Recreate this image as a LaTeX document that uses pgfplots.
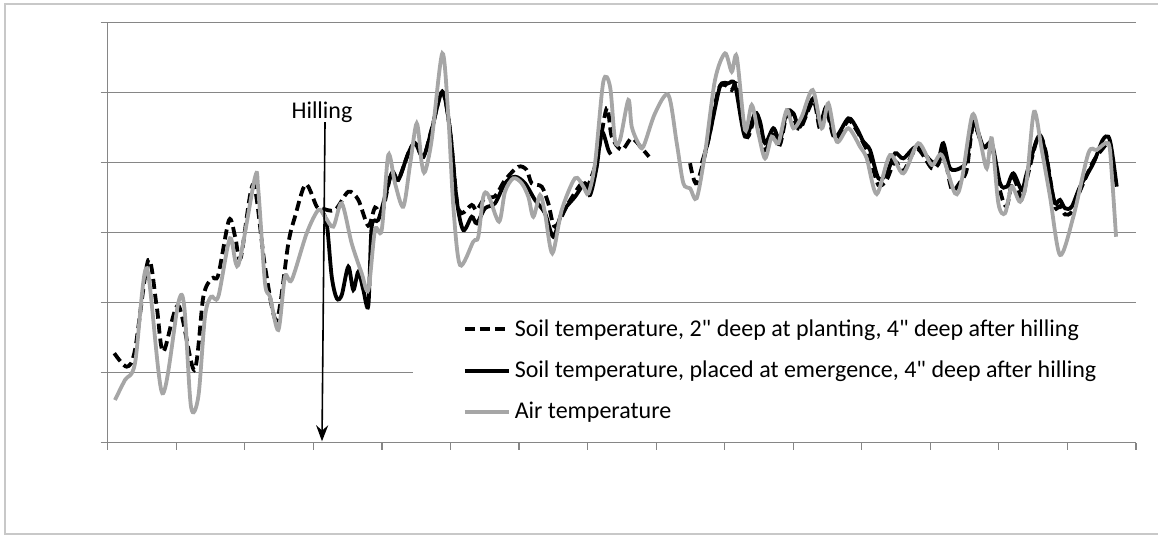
\documentclass[border=0pt]{standalone}
\usepackage{fontspec}
\setmainfont{Carlito}[Ligatures=TeXOff]
\usepackage{pgfplots}
\pgfplotsset{compat=1.18}
\usetikzlibrary{arrows.meta}

\definecolor{gridgray}{HTML}{868686}
\definecolor{airgray}{HTML}{A6A6A6}
\definecolor{framegray}{HTML}{C8C8C8}

\begin{document}
\begin{tikzpicture}
\useasboundingbox (0pt,0pt) rectangle (579pt,267.5pt);
\draw[framegray, line width=0.8pt] (600pt,265.5pt) -- (2.5pt,265.5pt) -- (2.5pt,0.5pt) -- (600pt,0.5pt);
\begin{axis}[
    at={(53.85pt,46.15pt)}, anchor=south west,
    width=514.15pt, height=210pt, scale only axis,
    xmin=0, xmax=150, ymin=0, ymax=30,
    xtick distance=10, ytick distance=5,
    xticklabels={}, yticklabels={},
    axis x line*=bottom, axis y line*=left,
    axis line style={gridgray, line width=0.6pt},
    tick style={gridgray, line width=0.6pt},
    tick align=outside, major tick length=3.5pt,
    ymajorgrids, grid style={gridgray, line width=0.6pt},
    unbounded coords=jump,
    font=\fontsize{12}{14.4}\selectfont,
    legend style={at={(0.2965,0.318)}, anchor=north west, draw=none,
        fill=white, inner xsep=25pt, inner ysep=3pt, row sep=6.8pt,
        font=\fontsize{12}{14.4}\selectfont},
    legend cell align=left,
    legend image code/.code={\draw[#1] (0pt,0pt) -- (22pt,0pt);},
    every axis plot/.append style={line width=1.9pt, smooth, no markers},
]

% soil temperature, 2" at planting, 4" after hilling
\addplot[black, dash pattern=on 5pt off 2.5pt] coordinates {
(0.96,6.39) (2.77,5.43) (3.98,6.62) (5.92,13.05) (7.15,9.71) (8.11,6.50)
(10.3,9.8) (12.63,5.19) (13.95,10.43) (15.17,11.74) (16.13,11.98) (17.70,15.91)
(18.6,14.7) (19.4,13.2) (21.24,18.46) (22.95,12.57) (24.65,8.76) (26.35,14.24)
(27.32,16.14) (28.88,18.46) (30.49,16.86) (31.22,16.74) (33.16,16.62) (35.10,17.93)
(36.56,17.34) (38.0,15.5) (39.0,16.8) (40.0,16.4) (41.4,19.3) (42.39,18.8)
(43.85,20.67) (44.83,21.4) (46.04,20.4) (47.26,22.4) (48.81,25.07) (49.93,22.34)
(50.91,17.34) (51.64,16.39) (53.10,16.98) (53.83,16.6) (55.04,17.5) (56.50,17.6)
(57.96,18.76) (59.90,19.71) (61.12,19.48) (61.85,18.53) (63.31,18.29) (64.27,17.10)
(65.25,15.43) (67.19,17.10) (69.15,18.53) (69.88,18.17) (71.34,20.19) (72.79,23.89)
(73.52,21.86) (74.98,20.91) (76.44,21.74) (77.90,21.03) (78.96,20.43)
(82,nan)
(84.95,19.96) (85.92,18.53) (87.62,21.62) (89.07,25.19) (90.05,25.55) (91.03,25.19)
(91.76,25.55) (93.22,21.86) (94.43,23.29) (95.16,22.4) (95.89,20.9) (97.10,22.0)
(98.07,21.3) (99.05,23.4) (100.02,23.2) (100.99,22.4) (102.93,24.4) (103.91,22.4)
(104.89,23.6) (106.10,21.7) (108.04,23.0) (109.26,22.3) (110.23,21.4) (111.20,20.4)
(112.42,18.4) (113.64,18.8) (114.85,20.1) (116.06,19.4) (118.02,21.0) (120.20,19.6)
(121.17,19.9) (121.89,20.8) (122.87,18.5) (123.35,18.0) (124.33,18.6) (125.31,19.5)
(126.27,22.7) (127.73,21.1) (128.96,21.2) (130.17,18.0) (131.15,16.9) (132.11,18.9)
(133.34,17.4) (134.06,18.8) (135.75,21.9) (136.73,21.0) (137.46,18.9) (138.19,16.8)
(138.92,16.9) (139.65,16.3) (140.63,16.5) (141.84,18.0) (143.78,20.1) (145.14,21.0)
(145.6,21.3)
};

% soil temperature, placed at emergence
\addplot[black] coordinates {
(31.12,16.62) (31.95,15.67) (32.68,11.86) (33.41,10.31) (34.14,10.55) (35.10,12.57)
(35.83,10.91) (36.56,12.21) (37.29,10.91) (38.02,9.8) (38.51,15.43) (39.47,15.91)
(40.45,17.57) (41.43,19.24) (42.39,18.76) (43.85,20.67) (44.83,21.38) (46.04,20.43)
(47.26,22.34) (48.81,25.07) (49.93,22.34) (50.91,17.34) (51.87,15.19) (53.10,16.14)
(53.83,15.67) (55.04,16.74) (56.50,17.10) (57.96,18.53) (59.42,19.00) (60.87,18.53)
(62.33,17.34) (63.79,16.39) (65.00,14.71) (66.23,16.39) (68.17,17.57) (69.63,18.53)
(70.36,17.69) (71.34,19.71) (72.06,22.21) (73.03,20.91) (73.4,20.6)
(80,nan)
(86.65,19.96) (87.62,21.62) (89.07,25.0) (89.57,25.67) (90.53,25.67) (91.51,25.55)
(92.97,21.86) (94.43,23.53) (95.16,22.93) (95.89,21.39) (97.10,22.46) (98.07,21.62)
(99.05,23.64) (100.02,23.53) (100.99,22.57) (102.93,24.60) (103.91,22.81) (104.89,24.00)
(106.10,21.86) (108.04,23.17) (109.26,22.46) (110.23,21.50) (111.20,20.91) (112.42,18.89)
(113.64,19.24) (114.85,20.67) (116.06,20.31) (118.02,21.14) (120.20,20.07) (121.17,20.19)
(121.89,21.39) (122.87,19.60) (124.33,19.60) (125.31,20.19) (126.27,22.93) (127.73,21.14)
(128.96,21.38) (130.17,18.53) (131.15,18.29) (132.11,19.24) (133.34,18.05) (134.06,19.24)
(135.75,21.86) (136.73,20.91) (137.46,18.76) (138.19,17.10) (138.92,17.34) (139.65,16.74)
(140.63,16.86) (141.84,18.29) (143.78,19.96) (145.14,21.62) (145.97,21.86) (146.46,20.91)
(147.19,18.29)
};

% air temperature
\addplot[airgray] coordinates {
(1.06,3.05) (2.52,4.48) (3.98,5.67) (5.69,12.46) (7.97,3.53) (10.30,10.00)
(11.17,9.71) (12.15,2.57) (13.22,3.29) (14.19,9.00) (15.07,10.43) (16.13,10.43)
(17.84,14.60) (19.05,12.69) (21.49,18.96) (21.97,18.05) (22.95,11.39) (23.68,10.43)
(24.89,8.05) (25.86,11.86) (26.84,11.62) (29.03,14.96) (30.72,16.62) (31.70,16.14)
(32.91,15.43) (34.14,17.10) (35.59,14.24) (37.05,12.10) (38.02,10.91) (38.99,15.19)
(39.97,15.19) (40.93,20.55) (41.91,18.53) (43.12,16.86) (44.10,19.84) (45.08,22.81)
(45.81,19.96) (46.29,19.36) (47.26,21.62) (48.81,27.81) (49.69,23.29) (50.42,16.86)
(51.39,12.69) (53.33,14.36) (54.06,14.71) (54.79,17.57) (55.52,17.69) (57.08,15.79)
(57.96,17.93) (59.17,18.89) (60.39,18.53) (61.36,17.57) (62.09,16.14) (63.06,17.69)
(63.79,16.39) (64.86,13.53) (66.23,16.62) (68.17,18.89) (69.38,18.29) (70.11,17.81)
(71.09,19.96) (72.30,25.79) (73.28,25.43) (74.00,21.62) (74.73,21.62) (75.95,24.48)
(76.44,22.57) (77.40,21.39) (78.13,21.14) (79.84,23.53) (81.78,24.84) (83.01,21.39)
(83.97,18.53) (84.95,18.17) (85.92,17.46) (87.13,20.67) (88.59,25.91) (90.05,27.81)
(91.03,26.50) (91.76,27.57) (92.97,22.34) (93.95,24.12) (94.91,22.10) (95.89,20.31)
(96.86,21.86) (97.83,21.39) (99.05,23.76) (100.02,22.46) (101.24,23.29) (102.84,25.19)
(104.16,22.46) (105.12,24.24) (106.35,21.50) (108.04,22.46) (109.75,21.14) (110.72,20.31)
(112.18,17.76) (114.12,20.55) (116.06,19.24) (118.25,21.39) (120.20,19.84) (121.66,20.55)
(123.60,17.81) (124.58,18.76) (126.13,23.41) (127.25,21.62) (128.23,19.60) (128.96,21.74)
(129.92,17.10) (130.90,16.39) (131.87,18.29) (133.09,17.21) (134.06,18.76) (135.13,23.64)
(136.25,20.91) (137.46,17.57) (138.92,13.41) (140.86,16.14) (143.05,20.67) (144.27,20.91)
(145.97,21.39) (146.46,19.24) (147.09,14.71)
};

\legend{{Soil temperature, 2" deep at planting, 4" deep after hilling},
        {Soil temperature, placed at emergence, 4" deep after hilling},
        {Air temperature}}

\node at (axis cs:31.26,23.64) {Hilling};
\draw[black, line width=0.8pt, -{Stealth[length=8pt,width=6pt]}]
    (axis cs:31.7,22.9) -- (axis cs:31.26,0.1);
\end{axis}
\end{tikzpicture}
\end{document}
